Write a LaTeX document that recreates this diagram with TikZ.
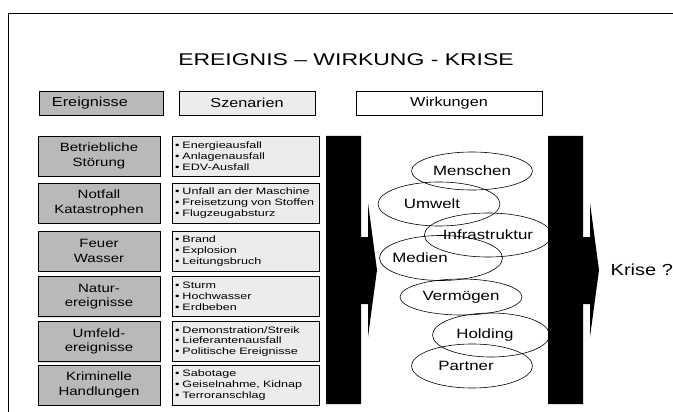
\documentclass[tikz,border=0pt]{standalone}
\usepackage{fontspec}
\setmainfont{Liberation Sans}[FakeStretch=1.25]
\newfontfamily\szenfont[FakeStretch=1.35]{Liberation Sans}
\usetikzlibrary{positioning, shapes.geometric, shadows}

\begin{document}
\begin{tikzpicture}[x=1pt, y=-1pt, line width=0.8pt,
    kopf/.style={draw, minimum height=24pt, inner sep=0pt, font=\fontsize{13}{15}\selectfont},
    ereig/.style={draw, fill=gray!55, minimum width=122pt, minimum height=40pt, inner sep=1pt,
        align=center, font=\fontsize{12}{14.7}\selectfont,
        drop shadow={shadow xshift=1.2pt, shadow yshift=-1.2pt, fill=gray!50}},
    szen/.style={draw, fill=gray!15, minimum width=147pt, minimum height=40pt, text width=142pt,
        inner xsep=2.5pt, inner ysep=1pt, align=left, font=\szenfont\fontsize{9.3}{10.8}\selectfont},
    wirk/.style={draw, ellipse, line width=0.6pt, inner sep=0pt, font=\fontsize{13.5}{16}\selectfont}]
    \useasboundingbox (0,0) rectangle (673,412);
    \clip (0,0) rectangle (673,412);

    % rahmen und titel
    \draw (8,13) rectangle (700,440);
    \node[font=\szenfont\fontsize{17}{20}\selectfont] (titel) at (346,60) {EREIGNIS – WIRKUNG - KRISE};

    % kopfzeile
    \node[kopf, fill=gray!55, minimum width=124pt, text width=98pt, align=left] (kereig) at (101,103) {Ereignisse};
    \node[kopf, fill=gray!15, minimum width=136pt] (kszen) at (247,103) {Szenarien};
    \node[kopf, fill=white, minimum width=186pt] (kwirk) at (449,103) {Wirkungen};

    % ereignisse und szenarien
    \node[ereig] (betrieb) at (99,156) {Betriebliche\\Störung};
    \node[ereig] (notfall) at (99,203) {Notfall\\Katastrophen};
    \node[ereig] (feuer) at (99,251) {Feuer\\Wasser};
    \node[ereig] (natur) at (99,296.5) {Natur-\\ereignisse};
    \node[ereig] (umfeld) at (99,341.5) {Umfeld-\\ereignisse};
    \node[ereig] (krimi) at (99,385) {Kriminelle\\Handlungen};

    \node[szen] (sbetrieb) at (246,156) {\textbullet{} Energieausfall\\\textbullet{} Anlagenausfall\\\textbullet{} EDV-Ausfall};
    \node[szen] (snotfall) at (246,203) {\textbullet{} Unfall an der Maschine\\\textbullet{} Freisetzung von Stoffen\\\textbullet{} Flugzeugabsturz};
    \node[szen] (sfeuer) at (246,251) {\textbullet{} Brand\\\textbullet{} Explosion\\\textbullet{} Leitungsbruch};
    \node[szen] (snatur) at (246,296.5) {\textbullet{} Sturm\\\textbullet{} Hochwasser\\\textbullet{} Erdbeben};
    \node[szen] (sumfeld) at (246,341.5) {\textbullet{} Demonstration/Streik\\\textbullet{} Lieferantenausfall\\\textbullet{} Politische Ereignisse};
    \node[szen] (skrimi) at (246,385) {\textbullet{} Sabotage\\\textbullet{} Geiselnahme, Kidnap\\\textbullet{} Terroranschlag};

    % schwarze pfeile
    \foreach \x in {326,548}
        \fill (\x,136) -- ++(35,0) -- ++(0,101) -- ++(7,0) -- ++(0,-34) -- ++(9,67)
            -- ++(-9,67) -- ++(0,-33) -- ++(-7,0) -- ++(0,100) -- ++(-35,0) -- cycle;

    % wirkungen
    \node[wirk, minimum width=121pt, minimum height=38pt] (menschen) at (472,171) {Menschen};
    \node[wirk, minimum width=122pt, minimum height=44pt, label={[xshift=-7pt, font=\fontsize{13.5}{16}\selectfont]center:Umwelt}] (umwelt) at (439,204) {};
    \node[wirk, minimum width=121pt, minimum height=44pt] (infra) at (488,235) {Infrastruktur};
    \node[wirk, minimum width=123pt, minimum height=45pt, label={[xshift=-21pt, font=\fontsize{13.5}{16}\selectfont]center:Medien}] (medien) at (441,258) {};
    \node[wirk, minimum width=122pt, minimum height=36pt] (vermoegen) at (461,297) {Vermögen};
    \node[wirk, minimum width=117pt, minimum height=44pt, label={[xshift=-6pt, font=\fontsize{13.5}{16}\selectfont]center:Holding}] (holding) at (491,335) {};
    \node[wirk, minimum width=121pt, minimum height=44pt, label={[xshift=-6pt, font=\fontsize{13.5}{16}\selectfont]center:Partner}] (partner) at (472,366) {};

    \node[font=\fontsize{16}{18}\selectfont, anchor=west] (krise) at (607,270) {Krise ?};
\end{tikzpicture}
\end{document}
